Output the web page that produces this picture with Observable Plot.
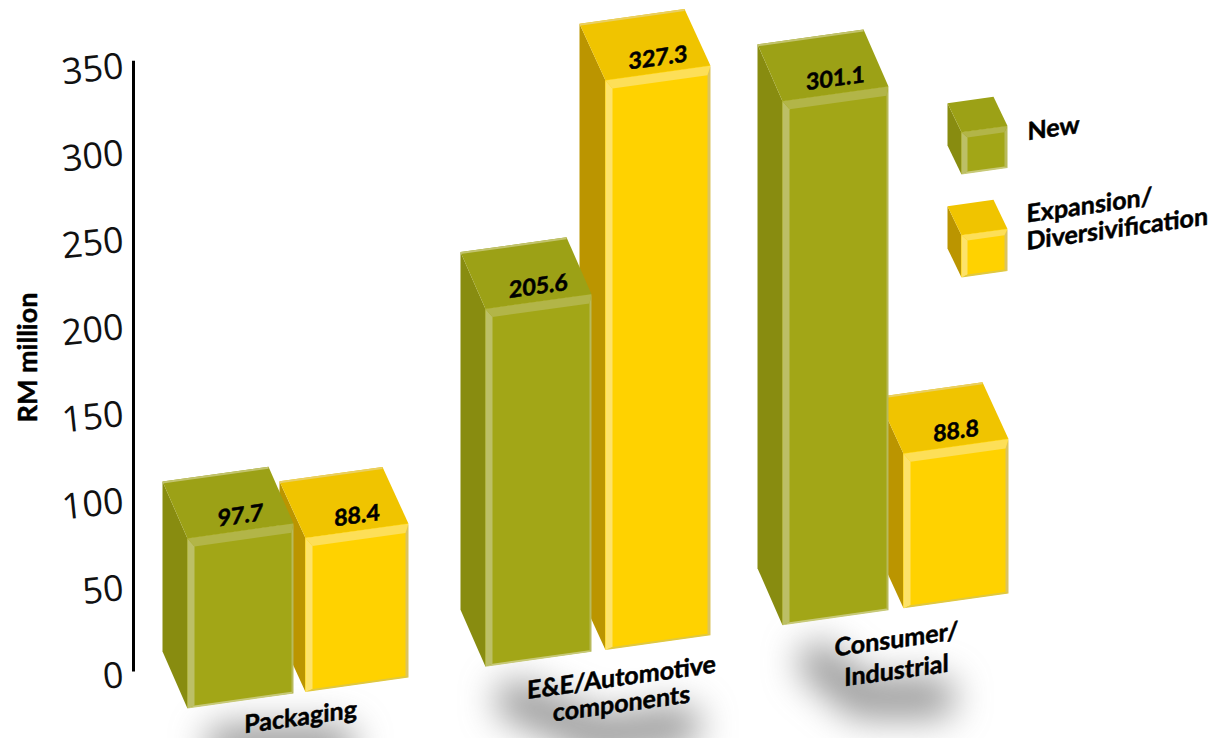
<!DOCTYPE html>
<html><head><meta charset="utf-8">
<script src="https://cdn.jsdelivr.net/npm/d3@7"></script>
<script src="https://cdn.jsdelivr.net/npm/@observablehq/plot@0.6"></script>
<style>html,body{margin:0;padding:0;background:#fff;overflow:hidden}svg{display:block;overflow:visible}</style>
</head><body><div id="chart"></div>
<script>
const categories = ["Packaging", "E&E/Automotive\ncomponents", "Consumer/\nIndustrial"];
const newValues = [97.7, 205.6, 301.1];
const expansionValues = [88.4, 327.3, 88.8];
const seriesNames = ["New", "Expansion/\nDiversivification"];
const yTicks = [0, 50, 100, 150, 200, 250, 300, 350];
const yTitle = "RM million";

// layout (pixels along the x axis, slant of the pseudo 3D floor)
const font = "'Open Sans', sans-serif", labelFont = "Lato, sans-serif";
const slant = 0.14, originX = 187, floorDrop = 33;
const y0px = 675, y350px = 66, unit = (y0px - y350px) / 350;
const groupLeft = [187, 485, 782], barWidth = 106;
const expansionLeft = [305, 605, 903], expansionWidth = [103, 105, 105];
const green = {front:"#a2a617", top:"#9ca116", side:"#888c10", left:"#bcbf66", topB:"#b2b548", right:"#b8ba5c", bottom:"#c7c978", rim:"#c2c36d"};
const yellow = {front:"#ffd200", top:"#f0c400", side:"#bb9500", left:"#fde26a", topB:"#fddf58", right:"#dcc45e", bottom:"#e0c840", rim:"#e9cf63"};
const unitsAt = (px, py) => (y0px + floorDrop - slant * (px - originX) - py) / unit;

const skew = (index, scales, values, dims, ctx, next) => {
  const g = next(index, scales, values, dims, ctx);
  g.setAttribute("transform", `matrix(1,${-slant},0,1,0,${slant * originX + floorDrop}) ${g.getAttribute("transform") || ""}`);
  return g;
};
const blur = (index, scales, values, dims, ctx, next) => {
  const g = next(index, scales, values, dims, ctx);
  g.style.filter = "blur(18px)";
  return g;
};

function solid(x, base, w, h, pal, dx, dv, bl, bt, br, bb, rim) {
  const t = base + h, polys = [];
  const add = (fill, pts) => { const n = polys.length; polys.push(pts.map(([a, b]) => ({key: `${x}-${base}-${n}`, x: a, y: b, fill}))); };
  const pv = 1 / unit;
  add(pal.side, [[x, base], [x, t], [x - dx, t + dv], [x - dx, base + dv]]);
  add(pal.top, [[x, t], [x + w, t], [x + w - dx, t + dv], [x - dx, t + dv]]);
  add(pal.rim, [[x - dx, t + dv], [x + w - dx, t + dv], [x + w - dx, t + dv - rim * pv], [x - dx, t + dv - rim * pv]]);
  const bevel = [];
  const addB = (fill, pts) => { bevel.push(pts.map(([a, b]) => ({key: `b${x}-${base}-${bevel.length}`, x: a, y: b, fill}))); };
  addB(pal.left, [[x, base], [x, t], [x + bl, t - bt * pv], [x + bl, base + bb * pv]]);
  addB(pal.right, [[x + w, base], [x + w, t], [x + w - br, t - bt * pv], [x + w - br, base + bb * pv]]);
  addB(pal.bottom, [[x, base], [x + w, base], [x + w - br, base + bb * pv], [x + bl, base + bb * pv]]);
  addB(pal.topB, [[x, t], [x + w, t], [x + w - br, t - bt * pv], [x + bl, t - bt * pv]]);
  return {polys: polys.flat(), bevel: bevel.flat(), front: {x1: x, x2: x + w, y1: base, y2: t, fill: pal.front}};
}

const newSolids = newValues.map((v, i) => solid(groupLeft[i], 0, barWidth, v, green, 25, 34.7, 7, 9, 2, 2, 2));
const expansionSolids = expansionValues.map((v, i) => solid(expansionLeft[i], 0, expansionWidth[i], v, yellow, 26, 34.7, 7, 9, 3, 2, 2));
// legend swatches
const legendX = 961, legendW = 46, legendH = 24.2;
const legendBase = [unitsAt(961, 174), unitsAt(961, 277)];
const legendSolids = legendBase.map((b, s) => solid(legendX, b, legendW, legendH, s ? yellow : green, 14, 17.8, 6, 6, 3, 2, 0));

function solidMarks(list) {
  return [
    Plot.line(list.flatMap(d => d.polys), {x: "x", y: "y", z: "key", fill: "fill", stroke: null, render: skew}),
    Plot.rect(list.map(d => d.front), {x1: "x1", x2: "x2", y1: "y1", y2: "y2", fill: "fill", render: skew}),
    Plot.line(list.flatMap(d => d.bevel), {x: "x", y: "y", z: "key", fill: "fill", stroke: null, render: skew})
  ];
}

const valueRows = [...newValues.map((v, i) => ({v, x: groupLeft[i] + barWidth / 2})),
                   ...expansionValues.map((v, i) => ({v, x: expansionLeft[i] + expansionWidth[i] / 2}))];
const catX = [300, 621, 896], catY = [717, 690, 653], catLine = [1, 1.05, 1.25];
const legendRows = [{name: seriesNames[0], x: 1027, y: unitsAt(1027, 131)}, {name: seriesNames[1], x: 1026, y: unitsAt(1026, 227)}];
const pxToV = py => (y0px - py) / unit;
const shadows = [
  [[225, 745], [335, 745]],
  [[515, 700], [600, 735], [680, 725]],
  [[818, 662], [860, 697], [935, 697]]
].flatMap((pts, i) => pts.map(([x, y]) => ({i, x, y: pxToV(y)})));
const boldText = {fontWeight: 700, fontFamily: labelFont, fill: "#000", stroke: "#000", strokeWidth: 0.5};

const chart = Plot.plot({
  width: 1214, height: 738,
  marginLeft: 133, marginRight: 0, marginTop: 0, marginBottom: 0,
  style: {background: "#fff", overflow: "visible"},
  x: {domain: [133, 1214], range: [133, 1214], axis: null},
  y: {domain: [0, 350], range: [y0px, y350px], axis: null},
  marks: [
    Plot.line(shadows, {x: "x", y: "y", z: "i", stroke: "#666", strokeWidth: 40, strokeOpacity: 0.68, strokeLinecap: "round", render: blur}),
    Plot.ruleX([133], {y1: 2, y2: 353, stroke: "#000", strokeWidth: 3}),
    Plot.axisY(yTicks, {anchor: "left", tickSize: 0, tickPadding: 10, fontSize: 36, tickRotate: -6, label: null, fontFamily: font, fill: "#111"}),
    Plot.text([yTitle], {x: 28, y: pxToV(357), text: d => d, rotate: -90, fontSize: 27, ...boldText}),
    ...solidMarks(expansionSolids),
    ...solidMarks(newSolids),
    ...solidMarks(legendSolids),
    Plot.text(valueRows, {x: "x", y: "v", text: d => d.v.toFixed(1), dy: -15, fontSize: 23, ...boldText, render: skew}),
    ...categories.map((name, i) => Plot.text([name], {x: catX[i], y: unitsAt(catX[i], catY[i]), text: d => d, fontSize: 25, lineHeight: catLine[i], ...boldText, render: skew})),
    Plot.text(legendRows, {x: "x", y: "y", text: "name", textAnchor: "start", fontSize: 25, lineHeight: 1.1, ...boldText, render: skew})
  ]
});
document.getElementById("chart").append(chart);
</script></body></html>
